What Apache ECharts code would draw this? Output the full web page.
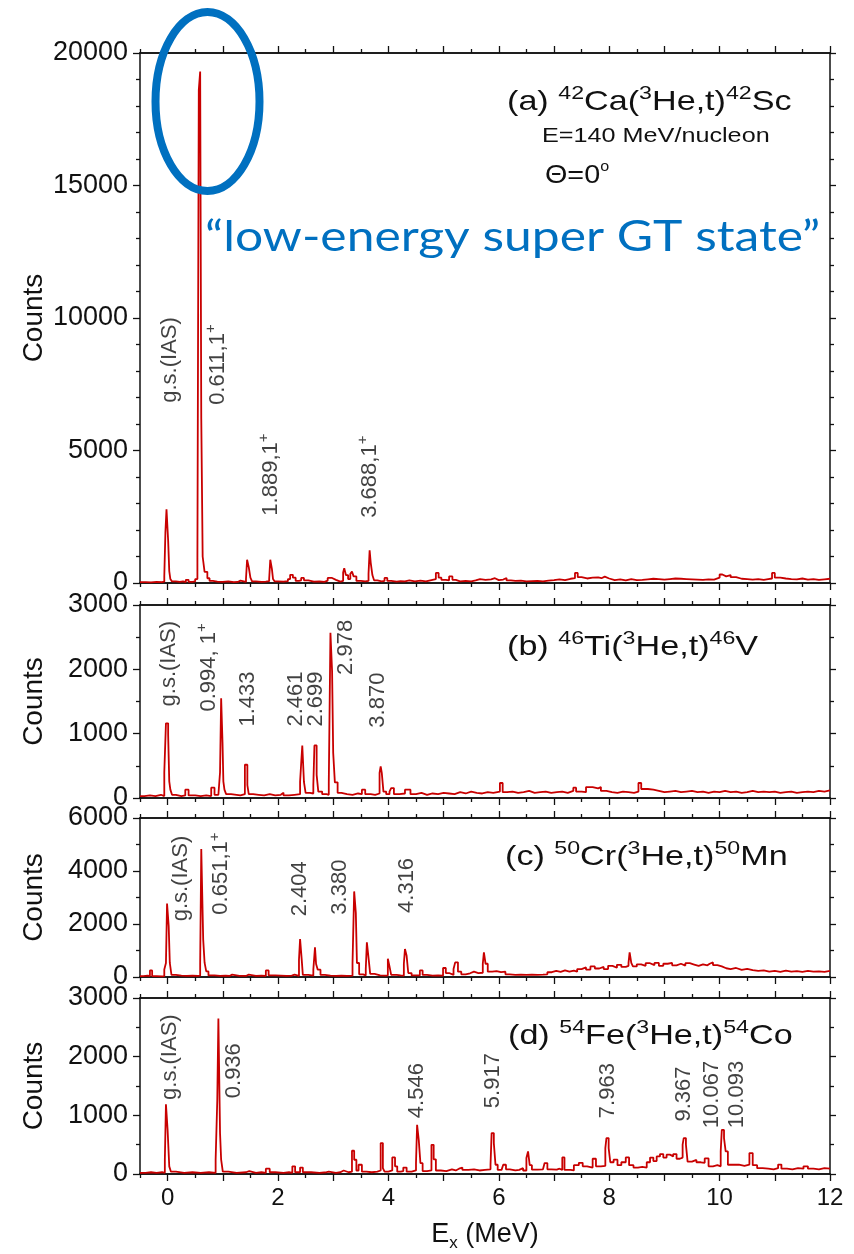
<!DOCTYPE html>
<html>
<head>
<meta charset="utf-8">
<script src="https://cdn.jsdelivr.net/npm/echarts@6/dist/echarts.min.js"></script>
<style>
  html, body { margin: 0; padding: 0; background: #fff; }
  #chart { width: 854px; height: 1254px; }
</style>
</head>
<body>
<div id="chart"></div>
<script>
// ---- Excitation-energy axis (MeV) ----
const exTicksMajor = [0, 1, 2, 3, 4, 5, 6, 7, 8, 9, 10, 11, 12];
const exTicksMinor = [-0.5, 0.5, 1.5, 2.5, 3.5, 4.5, 5.5, 6.5, 7.5, 8.5, 9.5, 10.5, 11.5];
const exTickLabels = [0, 2, 4, 6, 8, 10, 12];

// ---- Triton spectra: [lower bin edge Ex (MeV), counts] ----
const specCa42 = [
  [-0.5,30],[-0.4,20],[-0.3,40],[-0.2,30],[-0.1,50],
  [-0.06,250],[-0.04,1900],[-0.02,2780],[0.01,1600],[0.03,450],[0.05,150],[0.08,60],
  [0.15,40],[0.22,60],[0.28,30],[0.33,120],[0.38,40],[0.45,60],
  [0.5,150],[0.54,950],[0.565,18600],[0.59,19300],[0.61,6200],[0.635,1000],[0.67,420],[0.72,180],[0.76,80],
  [0.82,50],[0.9,40],[1.0,60],[1.1,30],[1.2,40],[1.27,90],[1.32,40],
  [1.42,150],[1.44,880],[1.47,600],[1.5,200],[1.53,60],
  [1.6,40],[1.7,50],[1.78,70],
  [1.84,150],[1.86,880],[1.89,520],[1.91,150],[1.94,60],
  [2.0,50],[2.1,70],[2.18,150],[2.22,310],[2.27,200],[2.32,80],[2.38,100],[2.42,190],[2.47,100],[2.55,50],
  [2.65,60],[2.75,40],[2.84,90],[2.9,190],[2.98,120],[3.05,50],[3.13,80],
  [3.18,400],[3.2,560],[3.23,300],[3.27,150],[3.31,350],[3.34,430],[3.37,250],[3.42,80],[3.5,60],[3.58,80],
  [3.64,350],[3.66,1230],[3.68,760],[3.71,300],[3.74,100],
  [3.8,60],[3.88,80],[3.93,190],[3.98,80],[4.05,50],[4.15,70],[4.22,60],[4.3,100],[4.38,60],[4.48,90],
  [4.58,60],[4.68,110],[4.78,150],[4.86,380],[4.91,200],[4.96,120],[5.04,100],[5.1,250],[5.16,120],[5.22,60],
  [5.3,80],[5.4,60],[5.5,100],[5.58,150],[5.66,120],[5.76,140],[5.86,180],[5.93,110],[6.0,130],[6.08,190],
  [6.14,100],[6.22,80],[6.3,90],[6.4,60],[6.5,70],[6.6,80],[6.7,60],[6.8,90],[6.9,110],[7.0,140],
  [7.1,110],[7.2,160],[7.3,180],[7.38,380],[7.43,220],[7.5,170],[7.6,200],[7.7,210],[7.8,180],[7.86,240],
  [7.92,170],[8.0,110],[8.1,140],[8.2,100],[8.3,150],[8.4,110],[8.5,120],[8.6,140],[8.7,160],[8.8,150],
  [8.9,130],[9.0,150],[9.1,170],[9.2,160],[9.3,150],[9.4,140],[9.5,130],[9.6,120],[9.7,140],[9.8,130],
  [9.9,200],[10.0,320],[10.05,250],[10.12,300],[10.2,220],[10.3,160],[10.4,150],[10.5,130],[10.6,150],
  [10.7,120],[10.8,150],[10.88,170],[10.95,380],[11.0,200],[11.1,170],[11.2,150],[11.3,140],[11.4,170],
  [11.5,130],[11.6,150],[11.7,120],[11.8,140],[11.9,160],[12.0,160]
];

const specTi46 = [
  [-0.5,30],[-0.42,40],[-0.32,30],[-0.22,50],[-0.12,30],
  [-0.06,400],[-0.03,1160],[0.01,980],[0.03,260],[0.05,130],[0.08,50],
  [0.15,30],[0.25,40],[0.32,130],[0.38,40],[0.5,30],[0.6,40],[0.7,30],
  [0.79,160],[0.85,50],[0.92,40],
  [0.95,400],[0.97,1550],[0.995,860],[1.01,260],[1.03,130],[1.06,60],
  [1.15,50],[1.25,40],[1.32,60],
  [1.4,517],[1.445,200],[1.47,60],
  [1.55,50],[1.65,40],[1.75,60],[1.85,40],[1.95,50],[2.05,80],[2.1,40],[2.2,50],[2.3,60],
  [2.4,250],[2.42,540],[2.44,817],[2.47,250],[2.5,80],[2.58,70],
  [2.64,200],[2.66,817],[2.7,360],[2.73,100],[2.8,60],[2.88,50],
  [2.92,243],[2.95,2570],[2.98,1965],[3.0,700],[3.03,243],[3.08,80],
  [3.15,60],[3.25,50],[3.35,70],[3.45,60],[3.52,130],[3.58,60],[3.68,50],[3.76,70],
  [3.84,390],[3.86,490],[3.88,390],[3.91,100],[3.96,60],[4.02,100],[4.05,155],[4.1,60],[4.2,70],[4.3,130],
  [4.4,60],[4.5,80],[4.6,50],[4.7,70],[4.8,60],[4.9,80],[5.0,70],[5.1,60],[5.2,90],[5.3,70],
  [5.4,100],[5.5,80],[5.6,70],[5.7,90],[5.8,80],[5.9,100],[6.02,233],[6.07,90],[6.15,100],[6.25,80],
  [6.35,90],[6.45,110],[6.55,80],[6.65,90],[6.75,100],[6.85,80],[6.95,90],[7.05,100],[7.15,80],[7.25,110],
  [7.35,160],[7.4,100],[7.5,90],[7.58,170],[7.7,150],[7.8,170],[7.85,110],[7.95,90],[8.05,80],[8.15,100],
  [8.25,90],[8.35,80],[8.45,100],[8.53,233],[8.58,140],[8.7,130],[8.8,110],[8.9,90],[9.0,100],[9.1,110],
  [9.2,90],[9.3,100],[9.4,110],[9.5,90],[9.6,100],[9.7,80],[9.8,100],[9.9,90],[10.0,110],[10.1,90],
  [10.2,100],[10.3,80],[10.4,90],[10.5,110],[10.6,90],[10.7,100],[10.8,90],[10.9,100],[11.0,80],[11.1,90],
  [11.2,100],[11.3,80],[11.4,90],[11.5,100],[11.6,90],[11.7,110],[11.8,100],[11.9,120],[12.0,120]
];

const specCr50 = [
  [-0.5,30],[-0.44,50],[-0.36,30],[-0.32,250],[-0.28,30],[-0.2,25],[-0.1,30],
  [-0.06,280],[-0.03,530],[-0.01,2770],[0.02,1910],[0.04,530],[0.07,80],
  [0.15,50],[0.25,40],[0.35,50],[0.45,40],[0.55,50],
  [0.59,530],[0.61,4830],[0.645,1410],[0.67,540],[0.7,210],[0.74,60],
  [0.85,40],[0.95,50],[1.05,40],[1.12,90],[1.17,40],[1.3,40],[1.42,90],[1.47,40],[1.6,50],[1.7,40],
  [1.78,250],[1.83,60],[1.95,50],[2.05,40],[2.15,50],[2.25,90],[2.3,40],
  [2.38,645],[2.4,1434],[2.43,645],[2.45,80],[2.55,50],
  [2.64,276],[2.67,1117],[2.69,490],[2.72,276],[2.77,80],[2.85,50],[2.95,40],[3.05,50],[3.15,40],[3.25,50],
  [3.35,528],[3.38,3230],[3.41,2415],[3.43,528],[3.47,100],[3.54,60],
  [3.59,300],[3.61,1306],[3.64,720],[3.67,120],[3.75,60],[3.85,50],[3.95,60],
  [3.99,690],[4.02,400],[4.05,80],[4.15,60],[4.22,50],
  [4.28,500],[4.3,1057],[4.33,800],[4.36,150],[4.42,60],[4.5,60],[4.57,250],[4.62,80],[4.7,50],[4.8,60],[4.9,50],
  [4.99,340],[5.04,150],[5.1,80],[5.18,300],[5.21,553],[5.26,200],[5.32,100],[5.4,140],[5.48,200],[5.55,150],[5.63,160],
  [5.71,500],[5.73,930],[5.76,500],[5.8,200],[5.88,220],[5.96,180],[6.04,200],[6.12,100],[6.2,80],[6.3,90],
  [6.4,80],[6.5,90],[6.6,80],[6.7,90],[6.8,100],[6.88,180],[6.96,230],[7.04,190],[7.12,250],[7.2,200],
  [7.28,240],[7.36,200],[7.42,300],[7.5,360],[7.58,280],[7.66,400],[7.74,320],[7.82,380],[7.9,300],[7.98,420],
  [8.06,350],[8.14,460],[8.22,380],[8.3,420],
  [8.35,530],[8.37,930],[8.4,530],[8.43,400],[8.5,480],[8.58,420],[8.66,520],[8.74,450],[8.82,530],[8.9,420],
  [8.98,500],[9.06,530],[9.14,440],[9.22,500],[9.3,430],[9.38,520],[9.46,470],[9.54,420],[9.62,480],[9.7,440],
  [9.78,500],[9.82,550],[9.88,450],[9.96,400],[10.04,330],[10.12,300],[10.2,340],[10.3,270],[10.4,310],[10.5,260],
  [10.6,230],[10.7,250],[10.8,200],[10.9,230],[11.0,190],[11.1,240],[11.2,200],[11.3,220],[11.4,190],[11.5,230],
  [11.6,200],[11.7,210],[11.8,190],[11.9,230],[12.0,230]
];

const specFe54 = [
  [-0.5,20],[-0.4,30],[-0.3,20],[-0.2,30],[-0.1,20],
  [-0.05,243],[-0.03,1190],[0.0,752],[0.03,130],[0.06,40],
  [0.15,20],[0.3,30],[0.45,20],[0.6,30],[0.75,20],
  [0.87,243],[0.9,1262],[0.92,2650],[0.95,697],[0.97,243],[1.0,40],
  [1.1,20],[1.25,30],[1.42,50],[1.48,20],[1.6,30],[1.7,20],
  [1.78,90],[1.85,30],[1.95,20],[2.1,30],[2.2,20],
  [2.26,130],[2.31,30],[2.4,110],[2.45,30],[2.6,20],[2.75,30],[2.88,40],[2.92,20],[3.05,30],
  [3.13,60],[3.19,30],[3.28,40],
  [3.34,396],[3.38,243],[3.42,60],[3.46,158],[3.52,40],[3.6,30],[3.7,40],[3.8,60],
  [3.86,527],[3.9,100],[3.93,40],[4.0,60],[4.07,283],[4.12,130],[4.16,40],[4.22,50],[4.27,110],[4.33,40],[4.42,60],
  [4.5,185],[4.52,838],[4.55,580],[4.58,185],[4.62,50],[4.7,60],
  [4.78,498],[4.82,250],[4.86,60],[4.95,50],[5.05,80],[5.15,60],[5.22,90],[5.28,110],[5.34,70],[5.45,80],
  [5.55,60],[5.65,70],[5.75,80],
  [5.85,160],[5.87,697],[5.91,527],[5.94,158],[5.98,70],[6.05,100],[6.08,158],[6.13,80],[6.2,60],[6.3,70],
  [6.37,100],[6.44,60],
  [6.5,272],[6.53,385],[6.56,150],[6.6,74],[6.7,80],[6.8,90],[6.83,187],[6.88,80],[6.95,74],[7.05,90],[7.1,70],
  [7.15,283],[7.19,70],[7.3,60],[7.36,150],[7.45,190],[7.52,130],[7.6,110],[7.7,260],[7.76,130],[7.85,140],
  [7.93,442],[7.95,612],[7.99,442],[8.02,200],[8.08,245],[8.15,150],[8.22,200],[8.3,283],[8.36,150],[8.44,110],
  [8.52,120],[8.6,110],[8.68,200],[8.74,280],[8.8,220],[8.86,300],[8.92,340],[8.98,280],[9.04,330],[9.1,300],
  [9.16,340],[9.22,260],[9.28,280],
  [9.33,500],[9.35,612],[9.39,500],[9.42,210],[9.5,240],[9.58,200],[9.66,190],[9.73,265],[9.8,130],[9.88,150],
  [9.96,130],
  [10.02,385],[10.04,752],[10.08,612],[10.11,385],[10.15,158],[10.25,160],[10.35,140],[10.45,160],
  [10.54,357],[10.6,150],[10.68,100],[10.78,90],[10.88,80],[10.98,100],[11.06,160],[11.12,90],[11.22,80],
  [11.32,100],[11.42,90],[11.52,130],[11.6,90],[11.7,80],[11.8,100],[11.9,90],[12.0,90]
];

// ---- State labels ({s|..} = superscript) ----
const labelsCa42 = ['g.s.(IAS)', '0.611,1{s|+}', '1.889,1{s|+}', '3.688,1{s|+}'];
const labelsTi46 = ['g.s.(IAS)', '0.994, 1{s|+}', '1.433', '2.461', '2.699', '2.978', '3.870'];
const labelsCr50 = ['g.s.(IAS)', '0.651,1{s|+}', '2.404', '3.380', '4.316'];
const labelsFe54 = ['g.s.(IAS)', '0.936', '4.546', '5.917', '7.963', '9.367', '10.067', '10.093'];

// ---- Reaction titles: [text, superscript?] pieces ----
const titleCa42 = [['(a) ', 0], ['42', 1], ['Ca(', 0], ['3', 1], ['He,t)', 0], ['42', 1], ['Sc', 0]];
const titleTi46 = [['(b) ', 0], ['46', 1], ['Ti(', 0], ['3', 1], ['He,t)', 0], ['46', 1], ['V', 0]];
const titleCr50 = [['(c) ', 0], ['50', 1], ['Cr(', 0], ['3', 1], ['He,t)', 0], ['50', 1], ['Mn', 0]];
const titleFe54 = [['(d) ', 0], ['54', 1], ['Fe(', 0], ['3', 1], ['He,t)', 0], ['54', 1], ['Co', 0]];
const beamText = [['E=140 MeV/nucleon', 0]];
const angleText = [['Θ=0', 0], ['o', 1]];

// ---- Panel layout ----
const FONT = '"Liberation Sans", Arial, Helvetica, sans-serif';
const INK = '#111111';
const RED = '#c80000';
const BLUE = '#0070c0';
const EX_MIN = -0.5, EX_MAX = 12;

const panels = [
  { top: 53,  height: 530, yMax: 20000, yStep: 5000, yMinor: 5, spectrum: specCa42, labels: labelsCa42,
    anchors: [[0.05, 6800], [0.91, 6720], [1.87, 2540], [3.66, 2460]] },
  { top: 605, height: 193, yMax: 3000, yStep: 1000, yMinor: 2, spectrum: specTi46, labels: labelsTi46,
    anchors: [[0.03, 1422], [0.745, 1344], [1.45, 1111], [2.32, 1111], [2.68, 1111], [3.24, 1913], [3.82, 1093]] },
  { top: 818, height: 159, yMax: 6000, yStep: 2000, yMinor: 2, spectrum: specCr50, labels: labelsCr50,
    anchors: [[0.245, 2098], [0.97, 2351], [2.39, 2287], [3.12, 2351], [4.33, 2415]] },
  { top: 998, height: 176, yMax: 3000, yStep: 1000, yMinor: 2, spectrum: specFe54, labels: labelsFe54,
    anchors: [[0.036, 1262], [1.21, 1291], [4.52, 951], [5.90, 1121], [7.97, 951], [9.35, 894], [9.86, 781], [10.32, 781]] }
];

const axisLine = () => ({ show: true, onZero: false, lineStyle: { color: INK, width: 1.5 } });
const tickLine = () => ({ color: INK, width: 1.3 });

const grid = [], xAxis = [], yAxis = [], series = [];

function exAxis(i, pos, ticks, len, extra) {
  return Object.assign({
    gridIndex: i, type: 'value', min: EX_MIN, max: EX_MAX, position: pos,
    axisLine: axisLine(), splitLine: { show: false }, axisLabel: { show: false },
    axisTick: { show: true, customValues: ticks, length: len, lineStyle: tickLine() }
  }, extra || {});
}

panels.forEach((p, i) => {
  const last = i === panels.length - 1;
  grid.push({ left: 140, width: 690, top: p.top, height: p.height });

  xAxis.push(exAxis(i, 'bottom', exTicksMajor, 7, last ? {
    axisLabel: { show: true, customValues: exTickLabels, margin: 12, fontSize: 24, fontFamily: FONT, color: INK },
    name: '{e|E}{sub|x}{e| (MeV)}', nameLocation: 'middle', nameGap: 44,
    nameTextStyle: {
      rich: {
        e: { fontSize: 27, fontFamily: FONT, color: INK, lineHeight: 34 },
        sub: { fontSize: 17, fontFamily: FONT, color: INK, lineHeight: 17, verticalAlign: 'bottom' }
      }
    }
  } : null));
  xAxis.push(exAxis(i, 'bottom', exTicksMinor, 4));
  xAxis.push(exAxis(i, 'top', exTicksMajor, 7));
  xAxis.push(exAxis(i, 'top', exTicksMinor, 4));

  const yBase = () => ({
    gridIndex: i, type: 'value', min: 0, max: p.yMax, interval: p.yStep,
    axisLine: axisLine(), splitLine: { show: false }, minorSplitLine: { show: false },
    minorTick: { show: true, splitNumber: p.yMinor, length: 4, lineStyle: tickLine() }
  });
  yAxis.push(Object.assign(yBase(), {
    position: 'left',
    axisTick: { show: true, length: 7, lineStyle: tickLine() },
    axisLabel: { show: true, margin: 12, fontSize: 27, fontFamily: FONT, color: INK, formatter: v => String(v) },
    name: 'Counts', nameLocation: 'middle', nameGap: 92, nameMoveOverlap: false,
    nameTextStyle: { fontSize: 28, fontFamily: FONT, color: INK }
  }));
  yAxis.push(Object.assign(yBase(), {
    position: 'right',
    axisTick: { show: true, length: 6, lineStyle: tickLine() },
    axisLabel: { show: false }
  }));

  series.push({
    type: 'line', xAxisIndex: 4 * i, yAxisIndex: 2 * i,
    data: p.spectrum, step: 'end', symbol: 'none',
    lineStyle: { color: RED, width: 1.8 }, silent: true, z: 3
  });
  series.push({
    type: 'scatter', xAxisIndex: 4 * i, yAxisIndex: 2 * i,
    data: p.labels.map((t, k) => ({ name: t, value: p.anchors[k] })),
    symbolSize: 0.1, itemStyle: { color: 'rgba(0,0,0,0)' }, silent: true, z: 5,
    label: {
      show: true, position: [0, 0], rotate: 90, align: 'left', verticalAlign: 'middle',
      formatter: d => d.name,
      fontSize: 22, lineHeight: 28, fontFamily: FONT, color: INK,
      rich: { s: { fontSize: 15, lineHeight: 15, fontFamily: FONT, color: INK, verticalAlign: 'top' } }
    }
  });
});

// Text runs with raised superscripts, laid out piece by piece
const measureCtx = document.createElement('canvas').getContext('2d');
function textRun(pieces, x, y, size, supSize, supRise, stretch) {
  let cx = 0;
  const children = pieces.map(([t, sup]) => {
    const fs = sup ? supSize : size;
    measureCtx.font = fs + 'px ' + FONT;
    const el = {
      type: 'text', x: cx, y: sup ? -supRise : 0, silent: true,
      style: { text: t, fontSize: fs, fontFamily: FONT, fill: INK, align: 'left', verticalAlign: 'middle' }
    };
    cx += measureCtx.measureText(t).width;
    return el;
  });
  return { type: 'group', x: x, y: y, scaleX: stretch, z: 10, silent: true, children: children };
}

const graphic = [
  textRun(titleCa42, 507, 102, 28, 19, 8.5, 1.22),
  textRun(beamText, 542, 136, 21, 14, 7, 1.2),
  textRun(angleText, 545, 176, 25, 14, 9, 1.15),
  textRun(titleTi46, 507, 647.5, 28, 19, 8.5, 1.22),
  textRun(titleCr50, 505, 857.5, 28, 19, 8.5, 1.22),
  textRun(titleFe54, 508, 1036, 28, 19, 8.5, 1.22),
  // highlighted super Gamow-Teller state
  {
    type: 'ellipse', z: 20, silent: true,
    shape: { cx: 207.5, cy: 101.5, rx: 52, ry: 89.5 },
    style: { fill: 'none', stroke: BLUE, lineWidth: 8 }
  },
  {
    type: 'text', x: 205, y: 237, scaleX: 1.185, z: 20, silent: true,
    style: { text: '“low-energy super GT state”', fontSize: 42, fontFamily: 'Lato, "Open Sans", sans-serif',
             fill: BLUE, align: 'left', verticalAlign: 'middle' }
  }
];

const chart = echarts.init(document.getElementById('chart'));
chart.setOption({
  animation: false,
  backgroundColor: '#fff',
  grid, xAxis, yAxis, series, graphic
});

// make sure every axis element is in the display list before painting
const zr = chart.getZr();
zr.storage.getDisplayList(true);
zr.refreshImmediately();
setTimeout(() => { zr.storage.getDisplayList(true); zr.refreshImmediately(); }, 0);
</script>
</body>
</html>
